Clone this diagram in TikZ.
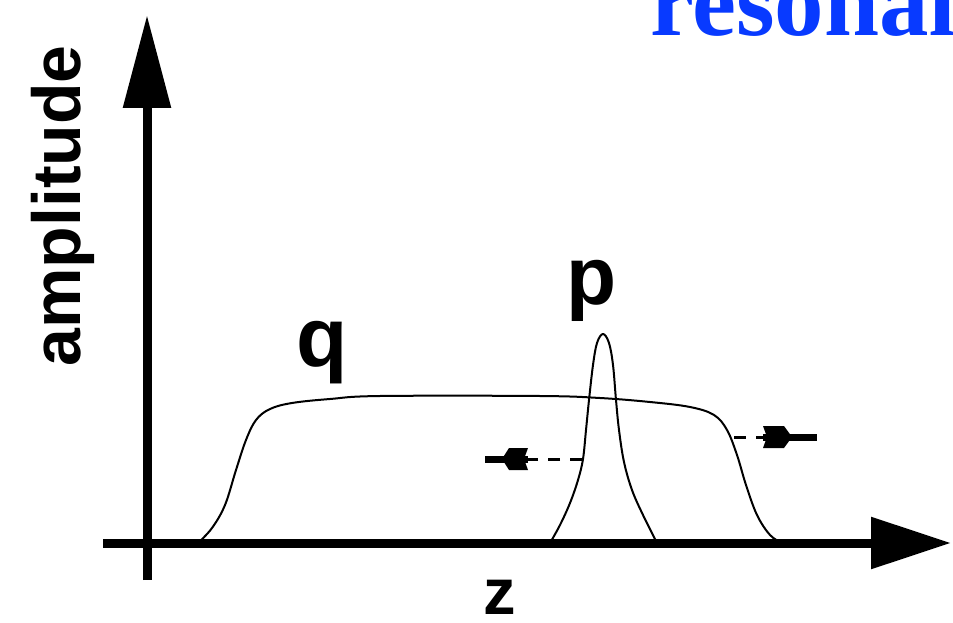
\documentclass[tikz,border=0pt]{standalone}
\usepackage{fontspec}
\setmainfont{Liberation Sans}
\newfontfamily\titlefont{Liberation Serif}
\usetikzlibrary{arrows.meta}
\definecolor{titleblue}{RGB}{8,58,255}
\begin{document}
\begin{tikzpicture}[x=1pt,y=-1pt,
  vaxis/.style={line width=9pt,-{Triangle[length=93pt,width=46pt]}},
  haxis/.style={line width=9pt,-{Triangle[length=80pt,width=50pt]}},
  curve/.style={line width=2pt,line join=round},
  dashline/.style={line width=3pt,dash pattern=on 12pt off 10pt},
  shaft/.style={line width=7pt},
  headfill/.style={fill=black},
  lbl/.style={inner sep=0pt,font=\bfseries\fontsize{#1}{#1}\selectfont}]
\useasboundingbox (0,0) rectangle (953,623);
\clip (0,0) rectangle (953,623);
% title
\node[anchor=base west,inner sep=0pt,text=titleblue,font=\titlefont\bfseries\fontsize{99}{99}\selectfont] (title) at (650,36) {resonan};
% axes
\coordinate (vbot) at (147,580);
\coordinate (vtop) at (147,15);
\coordinate (hleft) at (103,543);
\coordinate (hright) at (951,543);
\draw[vaxis] (vbot) -- (vtop);
\draw[haxis] (hleft) -- (hright);
% labels
\node[lbl=68,rotate=90,anchor=base] (amp) at (80,206) {amplitude};
\node[lbl=65,anchor=base] (z) at (500,614) {z};
\node[lbl=84,anchor=base] (q) at (322,366) {q};
\node[lbl=82,anchor=base] (p) at (592,304) {p};
% q pulse
\draw[curve] plot[smooth,tension=0.6] coordinates {(198,543)(212,528)(225,505)(236,470)(246,440)(256,420)(270,409)(292,403)(330,399)(380,396)(540,396)(600,398)(650,402)(690,407)(714,415)(727,430)(737,455)(746,485)(757,515)(770,535)(782,543)};
% p pulse
\draw[curve] plot[smooth,tension=0.6] coordinates {(550,543)(560,525)(570,503)(578,480)(583,459)(586,430)(589,400)(593,365)(597,343)(603,334)(609,343)(613,365)(616,400)(619,430)(624,462)(632,490)(643,515)(657,543)};
% left dashed arrow
\coordinate (pl) at (582,459);
\coordinate (lback) at (528,459);
\coordinate (ltip) at (485,459);
\draw[dashline] (pl) -- (lback);
\draw[shaft] (lback) -- (ltip);
\fill[headfill] (lback) ++(0,-11) -- ++(-19,0) -- ++(-7,11) -- ++(7,11) -- ++(19,0) -- ++(-4,-11) -- cycle;
% right dashed arrow
\coordinate (qr) at (734,437);
\coordinate (rback) at (763,437);
\coordinate (rtip) at (817,437);
\draw[dashline] (qr) -- (rback);
\draw[shaft] (rback) -- (rtip);
\fill[headfill] (rback) ++(0,-11) -- ++(21,0) -- ++(8,11) -- ++(-8,11) -- ++(-21,0) -- ++(4,-11) -- cycle;
\end{tikzpicture}
\end{document}
